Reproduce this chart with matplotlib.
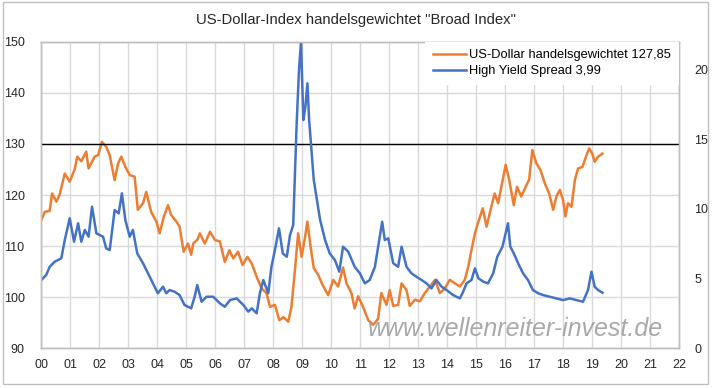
import matplotlib
matplotlib.use('Agg')
import matplotlib.pyplot as plt
from matplotlib.patches import Rectangle

plt.rcParams['font.family'] = ['Liberation Sans', 'DejaVu Sans']

# US-Dollar trade weighted (left axis), decimal years
usd_years = [2000.00, 2000.12, 2000.29, 2000.37, 2000.52, 2000.63, 2000.81, 2000.98,
             2001.15, 2001.24, 2001.38, 2001.55, 2001.63, 2001.84, 2001.96, 2002.09,
             2002.24, 2002.36, 2002.53, 2002.65, 2002.76, 2002.90, 2003.05, 2003.22,
             2003.33, 2003.51, 2003.62, 2003.79, 2003.97, 2004.08, 2004.23, 2004.37,
             2004.48, 2004.66, 2004.77, 2004.91, 2005.06, 2005.17, 2005.24, 2005.38,
             2005.47, 2005.64, 2005.82, 2005.99, 2006.16, 2006.33, 2006.49, 2006.62,
             2006.79, 2006.94, 2007.11, 2007.26, 2007.43, 2007.60, 2007.77, 2007.89,
             2008.06, 2008.21, 2008.35, 2008.52, 2008.63, 2008.75, 2008.86, 2008.98,
             2009.10, 2009.18, 2009.29, 2009.40, 2009.55, 2009.73, 2009.90, 2010.07,
             2010.24, 2010.41, 2010.53, 2010.70, 2010.81, 2010.93, 2011.10, 2011.28,
             2011.45, 2011.62, 2011.73, 2011.91, 2012.02, 2012.14, 2012.31, 2012.43,
             2012.60, 2012.71, 2012.89, 2013.06, 2013.23, 2013.41, 2013.58, 2013.75,
             2013.92, 2014.09, 2014.27, 2014.44, 2014.61, 2014.73, 2014.84, 2014.96,
             2015.08, 2015.23, 2015.36, 2015.50, 2015.64, 2015.76, 2015.87, 2016.02,
             2016.14, 2016.30, 2016.41, 2016.56, 2016.71, 2016.83, 2016.94, 2017.08,
             2017.22, 2017.37, 2017.52, 2017.66, 2017.77, 2017.89, 2018.00, 2018.08,
             2018.17, 2018.29, 2018.41, 2018.52, 2018.67, 2018.81, 2018.90, 2019.01,
             2019.09, 2019.21, 2019.36]
usd_values = [115.1, 116.7, 116.9, 120.3, 118.7, 120.0, 124.2, 122.6,
              125.0, 127.5, 126.6, 128.5, 125.2, 127.5, 127.8, 130.4,
              129.4, 127.8, 122.9, 126.2, 127.5, 125.5, 123.9, 123.6,
              117.1, 118.4, 120.6, 116.7, 114.8, 112.5, 115.8, 118.0,
              116.1, 114.8, 113.8, 108.9, 110.5, 108.3, 110.5, 111.2,
              112.5, 110.5, 112.8, 111.2, 110.9, 106.9, 109.2, 107.6,
              108.9, 106.3, 107.9, 106.6, 104.0, 101.7, 100.8, 98.1,
              98.5, 95.5, 96.1, 95.2, 98.1, 105.3, 112.5, 107.9,
              111.8, 114.8, 109.9, 105.7, 104.4, 102.1, 100.4, 103.4,
              102.1, 105.8, 102.7, 100.8, 97.8, 100.2, 98.1, 95.5,
              94.6, 95.8, 100.8, 98.5, 101.4, 98.3, 98.5, 102.7,
              101.4, 98.3, 99.5, 99.2, 100.8, 102.1, 103.4, 100.8,
              101.7, 103.4, 102.7, 102.1, 103.4, 106.0, 109.2, 112.5,
              114.8, 117.4, 113.8, 117.1, 120.3, 118.4, 121.6, 125.9,
              123.0, 118.0, 121.6, 119.7, 121.6, 123.0, 128.8, 126.2,
              124.9, 122.3, 120.3, 117.1, 119.7, 121.0, 119.0, 115.8,
              118.4, 117.7, 123.0, 125.2, 125.5, 127.8, 129.1, 128.1,
              126.5, 127.5, 128.1]

# High yield spread (right axis)
hy_years = [2000.00, 2000.17, 2000.29, 2000.46, 2000.69, 2000.81, 2000.98, 2001.13,
            2001.27, 2001.38, 2001.50, 2001.63, 2001.75, 2001.90, 2002.13, 2002.24,
            2002.36, 2002.53, 2002.67, 2002.78, 2002.90, 2003.05, 2003.16, 2003.31,
            2003.51, 2003.68, 2003.85, 2004.02, 2004.20, 2004.31, 2004.43, 2004.60,
            2004.77, 2004.94, 2005.17, 2005.29, 2005.38, 2005.53, 2005.70, 2005.93,
            2006.16, 2006.33, 2006.51, 2006.74, 2006.97, 2007.14, 2007.26, 2007.43,
            2007.54, 2007.66, 2007.83, 2007.94, 2008.06, 2008.20, 2008.33, 2008.47,
            2008.58, 2008.69, 2008.75, 2008.81, 2008.89, 2008.96, 2009.04, 2009.11,
            2009.18, 2009.24, 2009.32, 2009.40, 2009.49, 2009.62, 2009.79, 2009.95,
            2010.13, 2010.28, 2010.41, 2010.59, 2010.81, 2010.99, 2011.16, 2011.33,
            2011.51, 2011.62, 2011.76, 2011.85, 2011.97, 2012.14, 2012.31, 2012.43,
            2012.60, 2012.77, 2012.94, 2013.12, 2013.29, 2013.46, 2013.63, 2013.81,
            2013.98, 2014.21, 2014.44, 2014.53, 2014.67, 2014.84, 2014.96, 2015.08,
            2015.25, 2015.41, 2015.59, 2015.73, 2015.91, 2016.02, 2016.10, 2016.18,
            2016.30, 2016.45, 2016.62, 2016.79, 2016.96, 2017.14, 2017.31, 2017.54,
            2017.77, 2018.00, 2018.23, 2018.46, 2018.69, 2018.86, 2018.98, 2019.09,
            2019.21, 2019.36]
hy_values = [4.90, 5.26, 5.85, 6.21, 6.46, 7.77, 9.33, 7.65,
             8.97, 7.65, 8.49, 8.01, 10.16, 8.25, 8.01, 7.17,
             7.05, 9.92, 9.68, 11.12, 9.20, 8.01, 8.49, 6.81,
             6.10, 5.38, 4.66, 3.95, 4.42, 3.95, 4.18, 4.06,
             3.82, 3.11, 2.87, 3.70, 4.54, 3.34, 3.70, 3.70,
             3.23, 2.98, 3.46, 3.58, 3.11, 2.63, 2.87, 2.51,
             3.95, 4.90, 3.95, 5.85, 7.05, 8.61, 6.81, 6.57,
             8.13, 8.84, 12.55, 16.14, 19.96, 22.0, 16.38, 17.33,
             19.01, 16.38, 14.22, 12.07, 10.88, 9.20, 7.77, 6.81,
             6.33, 5.50, 7.29, 6.93, 5.85, 5.38, 4.66, 4.90,
             5.85, 7.29, 9.08, 7.77, 7.89, 6.10, 5.85, 7.29,
             5.85, 5.38, 5.14, 4.90, 4.66, 4.30, 4.90, 4.42,
             4.18, 3.82, 3.58, 3.95, 4.66, 4.90, 5.74, 5.02,
             4.78, 4.66, 5.38, 6.57, 7.29, 8.25, 8.97, 7.29,
             6.81, 6.10, 5.38, 4.90, 4.18, 3.95, 3.82, 3.70,
             3.58, 3.46, 3.58, 3.46, 3.34, 4.18, 5.50, 4.42,
             4.18, 3.99]

year_ticks = list(range(2000, 2023))
year_labels = [f'{y % 100:02d}' for y in year_ticks]
left_ticks = [90, 100, 110, 120, 130, 140, 150]
right_ticks = [0, 5, 10, 15, 20]

ORANGE = '#ED7D31'
BLUE = '#4472C4'
GRID = '#D9D9D9'

fig = plt.figure(figsize=(7.12, 3.88), dpi=100)
ax = fig.add_axes([41.3 / 712, 1 - 348.3 / 388, (679 - 41.3) / 712, (348.3 - 41.7) / 388])
ax2 = ax.twinx()

# outer frame of the chart
fig.patches.append(Rectangle((3 / 712, 1 - 384 / 388), 705 / 712, 382 / 388,
                             transform=fig.transFigure, fill=False,
                             edgecolor='#BFBFBF', linewidth=1.0))

l1, = ax.plot(usd_years, usd_values, color=ORANGE, linewidth=1.8,
              label='US-Dollar handelsgewichtet 127,85')
l2, = ax2.plot(hy_years, hy_values, color=BLUE, linewidth=1.8,
               label='High Yield Spread 3,99')
ax.axhline(130, color='black', linewidth=1.0, zorder=3)

ax.set_xlim(2000, 2022)
ax.set_ylim(90, 150)
ax2.set_ylim(0, 22)

ax.set_xticks(year_ticks)
ax.set_xticklabels(year_labels)
ax.set_yticks(left_ticks)
ax2.set_yticks(right_ticks)
ax.grid(True, color=GRID, linewidth=1.0)
ax.set_axisbelow(True)

for a in (ax, ax2):
    for s in a.spines.values():
        s.set_color('#BFBFBF')
        s.set_linewidth(1.0)
    a.tick_params(length=0, labelsize=9, colors='#262626')
ax.tick_params(axis='y', pad=12)
ax.tick_params(axis='x', pad=8)
ax2.tick_params(axis='y', pad=11)

leg = ax2.legend(handles=[l1, l2], loc='upper right', bbox_to_anchor=(1.0, 1.0),
                 fontsize=9.3, frameon=True, fancybox=False, framealpha=1,
                 facecolor='white', edgecolor='none', borderaxespad=0,
                 handlelength=2.5, handletextpad=0.3, labelspacing=0.3,
                 borderpad=0.6)
leg.get_frame().set_linewidth(0)

fig.text(0.5, 1 - 20 / 388, 'US-Dollar-Index handelsgewichtet "Broad Index"',
         ha='center', va='center', fontsize=10.7, color='#262626')

fig.text((368 + 663) / 2 / 712, 1 - 329 / 388, 'www.wellenreiter-invest.de',
         ha='center', va='center', fontsize=18, style='italic',
         color='#9A9A9A', alpha=0.85, zorder=10)

fig.savefig('out.png', dpi=100)
plt.close(fig)
